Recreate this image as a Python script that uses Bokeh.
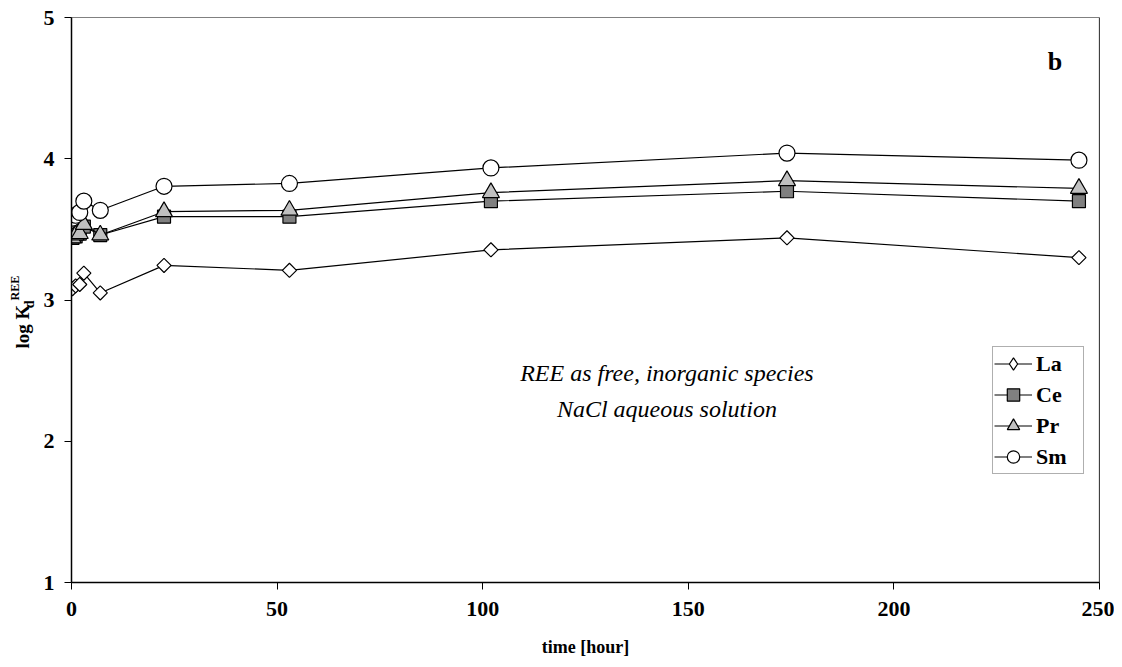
import math
from bokeh.plotting import figure
from bokeh.layouts import row
from bokeh.models import Range1d, Label, Span, Legend, LegendItem, FixedTicker, ColumnDataSource
from bokeh.embed import file_html
from bokeh.resources import INLINE

# data
times = [0.25, 1, 2, 3, 7, 22.5, 53, 102, 174, 245]
la = [3.08, 3.10, 3.11, 3.19, 3.05, 3.245, 3.21, 3.355, 3.44, 3.30]
ce = [3.44, 3.45, 3.47, 3.52, 3.46, 3.59, 3.59, 3.70, 3.77, 3.70]
pr = [3.44, 3.46, 3.47, 3.535, 3.46, 3.625, 3.635, 3.76, 3.845, 3.79]
sm = [3.58, 3.60, 3.62, 3.70, 3.635, 3.805, 3.825, 3.935, 4.04, 3.99]
series_names = ["La", "Ce", "Pr", "Sm"]
x_ticks = [0, 50, 100, 150, 200, 250]
y_ticks = [1, 2, 3, 4, 5]

FONT = "Liberation Serif"
H = 659
STRIP = 40

# ---- left strip holding the y-axis title (log K_d^REE)
lab = figure(width=STRIP, height=H, output_backend="svg", toolbar_location=None,
             x_range=Range1d(0, STRIP), y_range=Range1d(0, H),
             x_axis_type=None, y_axis_type=None,
             min_border_left=0, min_border_right=0, min_border_top=0, min_border_bottom=0)
lab.outline_line_color = None
lab.xgrid.visible = False
lab.ygrid.visible = False
lab.background_fill_color = "white"
lab.border_fill_color = "white"
# text runs upward from its anchor
lab.add_layout(Label(x=22, y=H - 386, text="log K", text_font=FONT, text_font_style="bold",
                     text_font_size="19px", angle=math.pi / 2, text_color="black",
                     text_align="left", text_baseline="middle"))
lab.add_layout(Label(x=29, y=H - 339, text="d", text_font=FONT, text_font_style="bold",
                     text_font_size="14px", angle=math.pi / 2, text_color="black",
                     text_align="left", text_baseline="middle"))
lab.add_layout(Label(x=14, y=H - 330, text="REE", text_font=FONT, text_font_style="bold",
                     text_font_size="12px", angle=math.pi / 2, text_color="black",
                     text_align="left", text_baseline="middle"))

# ---- main plot
p = figure(width=1114 - STRIP, height=H, output_backend="svg", toolbar_location=None,
           x_range=Range1d(0, 250), y_range=Range1d(1, 5),
           min_border_left=71 - STRIP, min_border_right=15, min_border_top=17, min_border_bottom=74)
p.background_fill_color = "white"
p.border_fill_color = "white"
p.outline_line_color = "#808080"
p.outline_line_width = 1
p.xgrid.visible = False
p.ygrid.visible = False

for axes in (p.xaxis, p.yaxis):
    axes.axis_line_color = "black"
    axes.axis_line_width = 1.5
    axes.major_tick_line_color = "black"
    axes.major_tick_in = 0
    axes.major_tick_out = 7
    axes.minor_tick_line_color = None
    axes.major_label_text_font = FONT
    axes.major_label_text_font_style = "bold"
    axes.major_label_text_font_size = "22px"
    axes.major_label_text_color = "black"

p.xaxis.ticker = FixedTicker(ticks=x_ticks)
p.yaxis.ticker = FixedTicker(ticks=y_ticks)
p.xaxis.major_label_standoff = 12
p.yaxis.major_label_standoff = 10
p.xaxis.axis_label = "time [hour]"
p.xaxis.axis_label_text_font = FONT
p.xaxis.axis_label_text_font_style = "bold"
p.xaxis.axis_label_text_font_size = "18px"
p.xaxis.axis_label_text_color = "black"
p.xaxis.axis_label_standoff = 18

p.add_layout(Span(location=250, dimension="height", line_color="black", line_width=1.2))

line_kw = dict(line_color="black", line_width=1.2)
p.line(times, la, **line_kw)
p.scatter(times, la, marker="square", angle=math.pi / 4, size=10,
          fill_color="white", line_color="black", line_width=1.2)
p.line(times, ce, **line_kw)
p.scatter(times, ce, marker="square", size=13,
          fill_color="#808080", line_color="black", line_width=1.2)
p.line(times, pr, **line_kw)
p.scatter(times, pr, marker="triangle", size=17,
          fill_color="#c0c0c0", line_color="black", line_width=1.2)
p.line(times, sm, **line_kw)
p.scatter(times, sm, marker="circle", size=16,
          fill_color="white", line_color="black", line_width=1.2)

# legend proxies (a single NaN point each: invisible in the plot, drawn in the legend)
markers = ["diamond", "square", "triangle", "circle"]
fills = ["white", "#808080", "#c0c0c0", "white"]
items = []
for name, mk, fc in zip(series_names, markers, fills):
    src = ColumnDataSource(data=dict(x=[float("nan")], y=[float("nan")]))
    rl = p.line("x", "y", source=src, **line_kw)
    rm = p.scatter("x", "y", source=src, marker=mk, size=14,
                   fill_color=fc, line_color="black", line_width=1.2)
    items.append(LegendItem(label=name, renderers=[rl, rm]))

legend = Legend(items=items, location=(921, 108))
legend.label_text_font = FONT
legend.label_text_font_style = "bold"
legend.label_text_font_size = "22px"
legend.label_text_color = "black"
legend.glyph_width = 38
legend.glyph_height = 31
legend.label_height = 31
legend.label_width = 46
legend.label_standoff = 4
legend.spacing = 0
legend.padding = 1
legend.margin = 0
legend.border_line_color = "#606060"
legend.border_line_width = 1
legend.background_fill_alpha = 1
p.add_layout(legend)

# annotations
p.add_layout(Label(x=239.2, y=4.69, text="b", text_font=FONT, text_font_style="bold",
                   text_font_size="26px", text_color="black",
                   text_align="center", text_baseline="middle"))
p.add_layout(Label(x=144.8, y=2.48, text="REE as free, inorganic species", text_font=FONT,
                   text_font_style="italic", text_font_size="24px", text_color="black",
                   text_align="center", text_baseline="middle"))
p.add_layout(Label(x=144.8, y=2.23, text="NaCl aqueous solution", text_font=FONT,
                   text_font_style="italic", text_font_size="24px", text_color="black",
                   text_align="center", text_baseline="middle"))

layout = row(lab, p, spacing=0)
open("out.html", "w").write(file_html(layout, INLINE))
